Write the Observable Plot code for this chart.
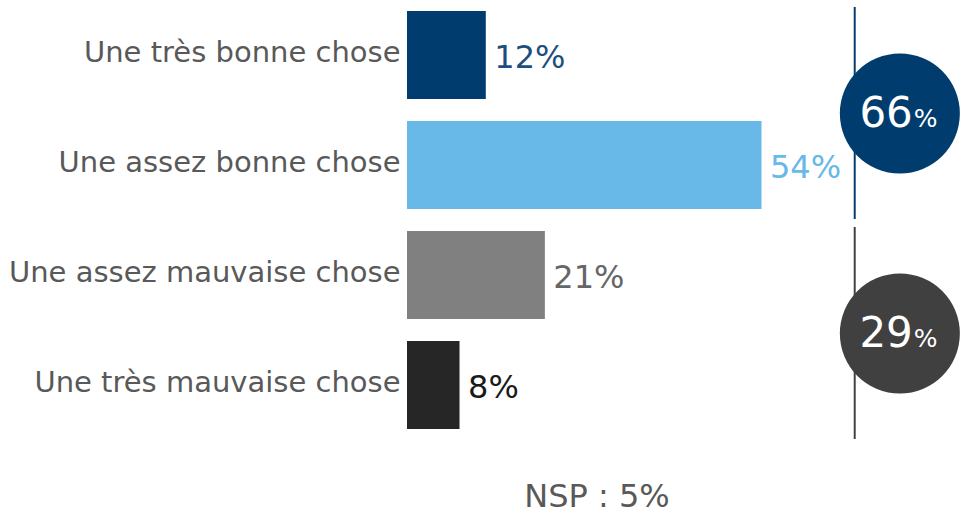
<!DOCTYPE html>
<html><head><meta charset="utf-8">
<script src="https://cdn.jsdelivr.net/npm/d3@7"></script>
<script src="https://cdn.jsdelivr.net/npm/@observablehq/plot@0.6"></script>
<style>
body{margin:0;background:#fff;font-family:"DejaVu Sans",sans-serif;}
#nsp{position:absolute;left:0;width:1194px;top:476px;text-align:center;font-size:32px;color:#595959;line-height:40px;}
</style></head>
<body>
<div id="chart"></div>
<div id="nsp">NSP : 5%</div>
<script>
const categories = ["Une très bonne chose","Une assez bonne chose","Une assez mauvaise chose","Une très mauvaise chose"];
const values = [12, 54, 21, 8];
const barColors = ["#003d6e","#68b8e8","#808080","#262626"];
const labelColors = ["#1d4f7e","#68b8e8","#666666","#1a1a1a"];
const groupLabels = ["66","29"];
const groupFirst = ["Une très bonne chose","Une assez mauvaise chose"];
const groupColors = ["#003d6e","#404040"];

const bars = categories.map((c,i)=>({cat:c, value:values[i], fill:barColors[i], lc:labelColors[i]}));
const groups = groupLabels.map((g,i)=>({label:g, cat:groupFirst[i], color:groupColors[i]}));
const GX = 75, RX = 68.2;

const plot = Plot.plot({
  width: 966, height: 450,
  marginLeft: 407, marginRight: 1, marginTop: 0, marginBottom: 10,
  style:{fontFamily:"DejaVu Sans, sans-serif", background:"#fff"},
  x:{domain:[0,85], axis:null},
  y:{domain:categories, paddingInner:0.2, paddingOuter:0.1, label:null},
  color:{type:"identity"},
  marks:[
    Plot.axisY({tickSize:0, tickPadding:7, fontSize:29, color:"#595959", label:null, dy:-3}),
    Plot.barX(bars,{y:"cat", x:"value", fill:"fill"}),
    Plot.text(bars,{y:"cat", x:"value", text:d=>d.value+"%", fill:"lc", textAnchor:"start", dx:8, dy:2, fontSize:32}),
    Plot.barX(groups,{x1:()=>RX-0.15, x2:()=>RX+0.15, y:"cat", fill:"color", insetTop:-4, insetBottom:-120}),
    Plot.dot(groups,{x:()=>GX, y:"cat", fill:"color", r:60, dy:58, stroke:"none"}),
    Plot.text(groups,{x:()=>GX, y:"cat", text:"label", fill:"white", fontSize:42, textAnchor:"end", dx:13, dy:58}),
    Plot.text(groups,{x:()=>GX, y:"cat", text:()=>"%", fill:"white", fontSize:25, textAnchor:"start", dx:14, dy:63})
  ]
});
document.getElementById("chart").appendChild(plot);
</script>
</body></html>
